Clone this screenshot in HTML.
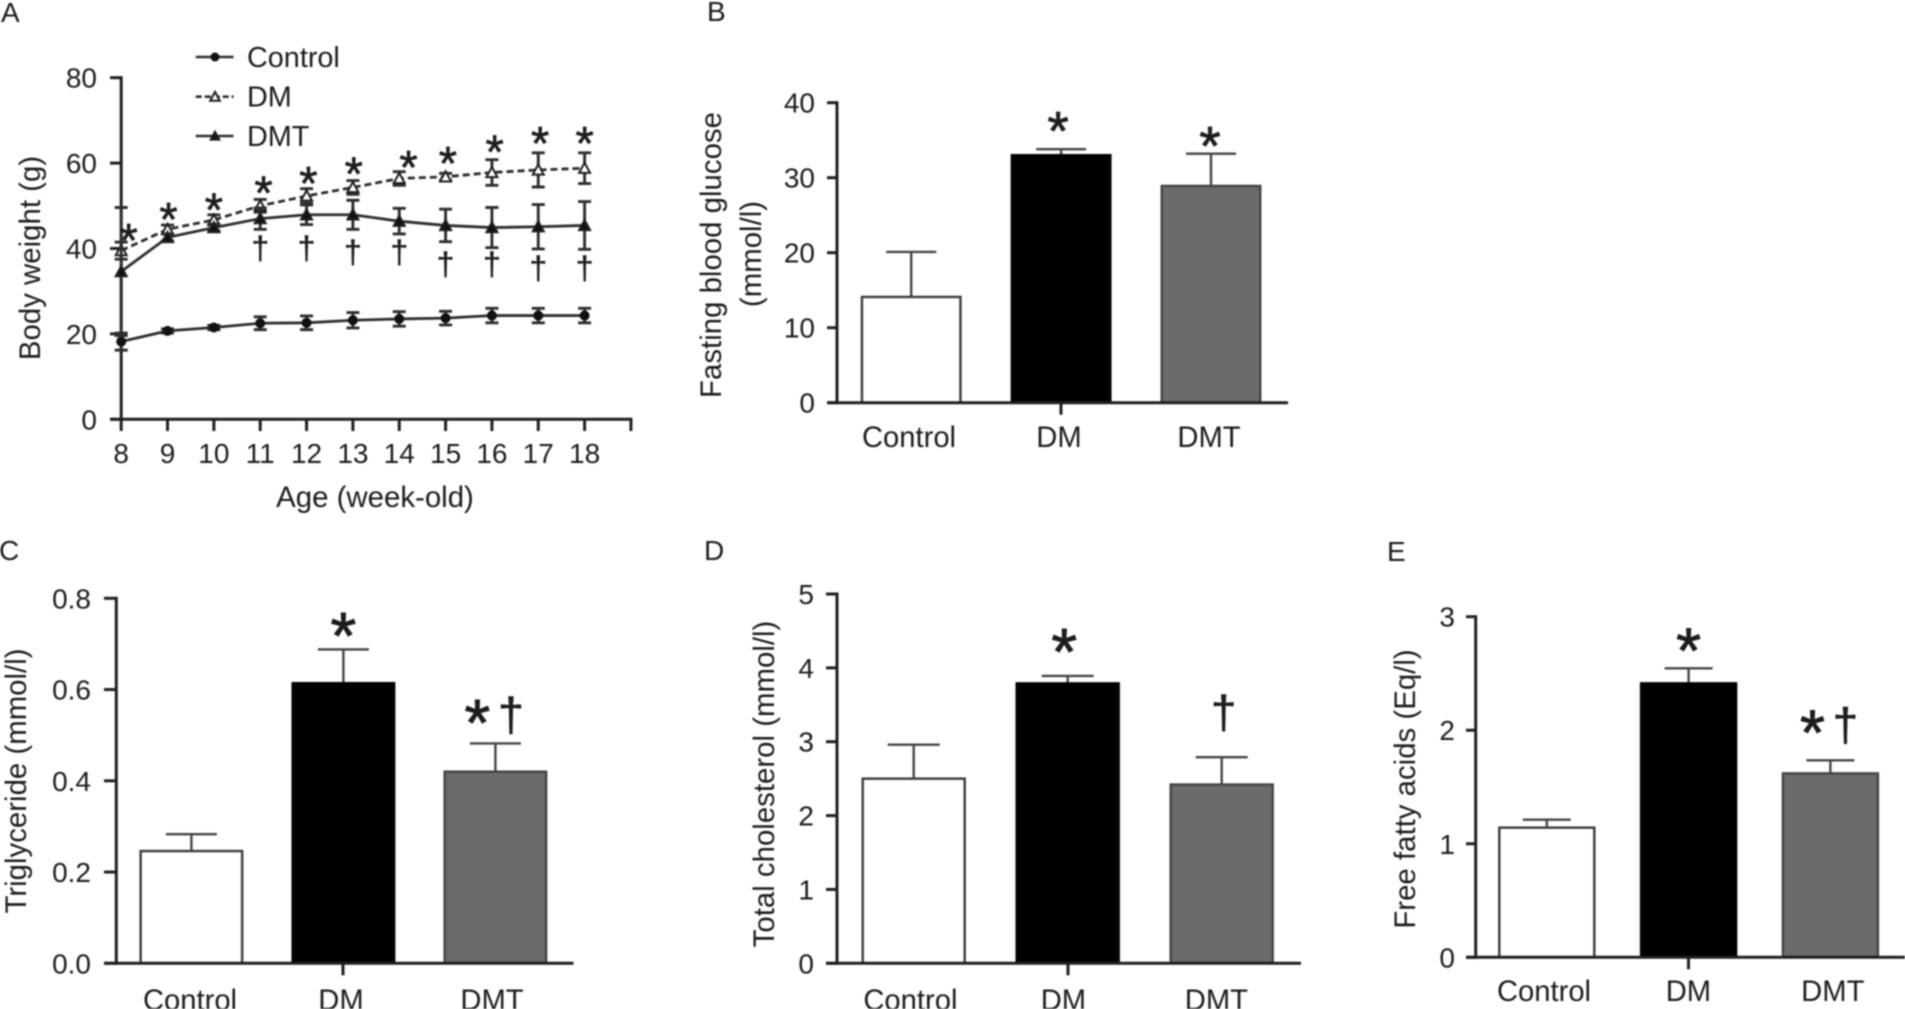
<!DOCTYPE html>
<html lang="en">
<head>
<meta charset="utf-8">
<title>Body weight and serum metabolic parameters</title>
<style>
html,body{margin:0;padding:0;background:#fff;}
body{width:1905px;height:1009px;overflow:hidden;}
svg{display:block;filter:blur(0.7px);}
text{font-family:"Liberation Sans",Arial,sans-serif;fill:#1c1c1c;}
</style>
</head>
<body>
<svg id="fig" xmlns="http://www.w3.org/2000/svg" width="1905" height="1009" viewBox="0 0 1905 1009"></svg>
<script>
// ---------- Panel A data ----------
const weeks = [8, 9, 10, 11, 12, 13, 14, 15, 16, 17, 18];
const weightTicks = [0, 20, 40, 60, 80];
const controlMeans = [18.2, 20.7, 21.5, 22.5, 22.6, 23.2, 23.5, 23.7, 24.3, 24.3, 24.3];
const controlErrors = [2.0, 0.5, 0.5, 1.5, 1.6, 1.8, 1.7, 1.6, 1.7, 1.7, 1.7];
const dmMeans = [39.5, 44.5, 46.7, 50.0, 52.3, 54.3, 56.4, 56.8, 57.8, 58.4, 58.8];
const dmErrors = [2.0, 1.0, 1.2, 1.5, 1.7, 1.6, 1.6, 0.8, 3.0, 4.0, 3.6];
const dmtMeans = [34.6, 42.6, 44.9, 47.0, 47.9, 47.9, 46.4, 45.4, 44.9, 45.1, 45.4];
const dmtErrors = [15.0, 0.8, 0.8, 2.5, 2.3, 3.4, 3.0, 3.8, 4.7, 5.2, 5.6];
const starLevels = [43.6, 48.5, 50.8, 54.7, 57.0, 59.2, 60.7, 61.7, 64.3, 66.4, 66.4];
const starWeekOffsets = [0.16, 0.02, 0, 0.07, 0.04, 0.02, 0.2, 0.05, 0.06, 0.04, 0];
const daggerWeeks = [11, 12, 13, 14, 15, 16, 17, 18];
const daggerLevels = [39.8, 39.8, 38.9, 38.9, 36.0, 36.0, 35.1, 35.1];

// ---------- Bar panel data ----------
const categories = ['Control', 'DM', 'DMT'];
const glucoseMeans = [14.1, 33.0, 28.9];
const glucoseErrors = [6.0, 0.8, 4.3];
const glucoseTicks = [0, 10, 20, 30, 40];
const triglycerideMeans = [0.246, 0.614, 0.42];
const triglycerideErrors = [0.037, 0.074, 0.062];
const triglycerideTicks = [0.0, 0.2, 0.4, 0.6, 0.8];
const cholesterolMeans = [2.50, 3.79, 2.42];
const cholesterolErrors = [0.46, 0.10, 0.37];
const cholesterolTicks = [0, 1, 2, 3, 4, 5];
const fattyAcidMeans = [1.142, 2.413, 1.62];
const fattyAcidErrors = [0.07, 0.132, 0.115];
const fattyAcidTicks = [0, 1, 2, 3];

const svg = document.getElementById('fig');
const NS = 'http://www.w3.org/2000/svg';
const INK = '#1f1f1f';
const LINE = '#2e2e2e';
const TITLE_SIZE = 29.4;
const CAT_SIZE = 29.2;

function shape(tag, attrs, parent) {
  const el = document.createElementNS(NS, tag);
  for (const k in attrs) el.setAttribute(k, attrs[k]);
  parent.appendChild(el);
  return el;
}
function line(x1, y1, x2, y2, stroke, width, parent) {
  return shape('line', {x1, y1, x2, y2, stroke, 'stroke-width': width}, parent);
}
function label(str, x, y, size, anchor, parent, rot) {
  const t = shape('text', {x, y, 'font-size': size, 'text-anchor': anchor}, parent);
  if (rot) t.setAttribute('transform', 'rotate(-90 ' + x + ' ' + y + ')');
  t.textContent = str;
  return t;
}
function star(x, cy, size, parent) {
  const t = label('*', x, cy + 0.5 * size, size, 'middle', parent);
  t.setAttribute('stroke', '#1c1c1c');
  t.setAttribute('stroke-width', size * 0.014);
  
  
  return t;
}
function dagger(x, cy, size, parent) {
  const t = label('†', x, cy + 0.3 * size, size, 'middle', parent);
  t.setAttribute('stroke', '#1c1c1c');
  t.setAttribute('stroke-width', size * 0.012);
  
  
  return t;
}
function panelLetter(str, x, y) {
  const t = label(str, x, y, 28, 'start', svg);
  
  
}
function yAxis(g, xAxis, tickLeft, yScale, ticks, labelRight, decimals) {
  const tops = Math.min.apply(null, ticks.map(yScale));
  const bots = Math.max.apply(null, ticks.map(yScale));
  const ax = line(xAxis, tops - 1.5, xAxis, bots + 1.5, INK, 3, g);
  
  
  ticks.forEach(function (v) {
    const y = yScale(v);
    const tk = line(tickLeft, y, xAxis, y, INK, 3, g);
    
    
    const t = label(v.toFixed(decimals), labelRight, y + 10, 28, 'end', g);
    
    
  });
}
function errorBar(x, yTop, yBot, capHalf, stroke, width, parent) {
  const s = line(x, yTop, x, yBot, stroke, width, parent);
  
  
  const c = line(x - capHalf, yTop, x + capHalf, yTop, stroke, width, parent);
  
  
}

// ---------- Panel A: line chart ----------
(function () {
  panelLetter('A', 1, 22);
  const g = shape('g', {}, svg);
  
  
  const xs = function (w) { return 121.2 + (w - 8) * 46.34; };
  const ys = function (v) { return 419.3 - v * 4.27; };

  yAxis(g, 121.2, 110, ys, weightTicks, 97, 0);
  const xa = line(110, ys(0), xs(19) + 1.5, ys(0), INK, 3, g);
  
  
  weeks.concat([19]).forEach(function (w) {
    const tk = line(xs(w), ys(0), xs(w), 431, INK, 3, g);
    
    
  });
  weeks.forEach(function (w) {
    const t = label(String(w), xs(w), 463, 28, 'middle', g);
    
    
  });
  const xt = label('Age (week-old)', 375, 507, TITLE_SIZE, 'middle', g);
  
  
  const yt = label('Body weight (g)', 40, 258, TITLE_SIZE, 'middle', g, true);
  
  

  function triangle(x, y, r, fill, parent) {
    const p = shape('polygon', {
      points: (x - r) + ',' + (y + r * 0.85) + ' ' + (x + r) + ',' + (y + r * 0.85) + ' ' + x + ',' + (y - r),
      fill: fill, stroke: INK, 'stroke-width': 2
    }, parent);
    return p;
  }
  function series(name, means, errs, dash, marker) {
    const sg = shape('g', {}, g);
    
    
    const pts = weeks.map(function (w, i) { return xs(w) + ',' + ys(means[i]); }).join(' ');
    const pl = shape('polyline', {points: pts, fill: 'none', stroke: LINE, 'stroke-width': 2.8}, sg);
    if (dash) pl.setAttribute('stroke-dasharray', dash);
    
    
    weeks.forEach(function (w, i) {
      const x = xs(w), top = ys(means[i] + errs[i]), bot = ys(means[i] - errs[i]);
      const eb = shape('path', {
        d: 'M' + (x - 6.5) + ' ' + top + 'H' + (x + 6.5) + 'M' + x + ' ' + top + 'V' + bot + 'M' + (x - 6.5) + ' ' + bot + 'H' + (x + 6.5),
        stroke: LINE, 'stroke-width': 2.9, fill: 'none'
      }, sg);
      
      
      let m;
      if (marker === 'circle') m = shape('circle', {cx: x, cy: ys(means[i]), r: 5, fill: '#111'}, sg);
      else if (marker === 'open') m = triangle(x, ys(means[i]), 5.5, '#fff', sg);
      else m = triangle(x, ys(means[i]), 5.5, '#111', sg);
      
      
    });
  }
  series('control', controlMeans, controlErrors, null, 'circle');
  series('dm', dmMeans, dmErrors, '7 4', 'open');
  series('dmt', dmtMeans, dmtErrors, null, 'filled');

  weeks.forEach(function (w, i) {
    star(xs(w + starWeekOffsets[i]), ys(starLevels[i]), 47, g);
  });
  daggerWeeks.forEach(function (w, i) {
    dagger(xs(w), ys(daggerLevels[i]), 32, g);
  });

  // legend
  const lg = shape('g', {}, g);
  
  
  function legendEntry(name, y, dash, marker) {
    const en = shape('g', {}, lg);
    
    
    const l = line(195.7, y, 233.6, y, LINE, 2.6, en);
    if (dash) l.setAttribute('stroke-dasharray', dash);
    
    
    let m;
    if (marker === 'circle') m = shape('circle', {cx: 215, cy: y, r: 4.5, fill: '#111'}, en);
    else if (marker === 'open') m = triangle(215, y, 4.8, '#fff', en);
    else m = triangle(215, y, 4.3, '#111', en);
    
    
    const t = label(name, 247, y + 10, 28.8, 'start', en);
    
    
  }
  legendEntry('Control', 57, null, 'circle');
  legendEntry('DM', 96.7, '6 3', 'open');
  legendEntry('DMT', 136, null, 'filled');
})();

// ---------- Bar panels ----------
function barPanel(cfg, means, errors, ticks) {
  panelLetter(cfg.letter, cfg.letterX, cfg.letterY);
  const g = shape('g', {}, svg);
  
  
  const maxV = ticks[ticks.length - 1];
  const ys = function (v) { return cfg.y0 + (cfg.yMax - cfg.y0) * v / maxV; };
  const bx = function (i) { return cfg.first + i * cfg.step; };
  const fills = ['#fff', '#000', '#6b6b6b'];
  const strokes = ['#3a3a3a', '#000', '#444'];

  categories.forEach(function (c, i) {
    const cx = bx(i);
    errorBar(cx, ys(means[i] + errors[i]), ys(means[i]), cfg.cap, '#444', 2.4, g);
    const r = shape('rect', {
      x: cx - cfg.width / 2, y: ys(means[i]), width: cfg.width, height: ys(0) - ys(means[i]),
      fill: fills[i], stroke: strokes[i], 'stroke-width': 2.4
    }, g);
    
    
    const t = label(c, cfg.labelFirst + i * cfg.labelStep, cfg.labelY, CAT_SIZE, 'middle', g);
    
    
  });

  yAxis(g, cfg.xAxis, cfg.tickLeft, ys, ticks, cfg.labelRight, cfg.decimals);
  const xa = line(cfg.tickLeft, ys(0), cfg.xEnd, ys(0), INK, 3, g);
  
  
  const mid = line(cfg.midTick, ys(0), cfg.midTick, ys(0) + 12, INK, 3, g);
  
  

  cfg.titles.forEach(function (tt) {
    const t = label(tt.text, tt.x, tt.y, TITLE_SIZE, 'middle', g, true);
    
    
  });
  cfg.stars.forEach(function (s) { star(bx(s.bar) + s.dx, ys(s.level), cfg.starSize, g); });
  cfg.daggers.forEach(function (s) { dagger(bx(s.bar) + s.dx, ys(s.level), cfg.daggerSize, g); });
}

barPanel({
  name: 'panel-b-fasting-glucose-chart', letter: 'B', letterX: 707, letterY: 21,
  y0: 402.7, yMax: 102.7, xAxis: 837, tickLeft: 827, xEnd: 1288, labelRight: 815, decimals: 0,
  first: 911.2, step: 149.9, width: 98.5, cap: 25, midTick: 1061,
  labelFirst: 909, labelStep: 150, labelY: 447,
  titles: [{text: 'Fasting blood glucose', x: 721, y: 255}, {text: '(mmol/l)', x: 761, y: 254}],
  stars: [{bar: 1, dx: -3, level: 37.4}, {bar: 2, dx: -1, level: 35.4}], daggers: [],
  starSize: 55, daggerSize: 44
}, glucoseMeans, glucoseErrors, glucoseTicks);

barPanel({
  name: 'panel-c-triglyceride-chart', letter: 'C', letterX: -1, letterY: 560,
  y0: 963.3, yMax: 598.3, xAxis: 116.3, tickLeft: 104, xEnd: 573.5, labelRight: 91, decimals: 1,
  first: 191.4, step: 152, width: 101.5, cap: 25.5, midTick: 343,
  labelFirst: 190, labelStep: 151, labelY: 1010,
  titles: [{text: 'Triglyceride (mmol/l)', x: 26, y: 781}],
  stars: [{bar: 1, dx: 0, level: 0.74}, {bar: 2, dx: -18, level: 0.55}],
  daggers: [{bar: 2, dx: 15.5, level: 0.54}],
  starSize: 66, daggerSize: 47
}, triglycerideMeans, triglycerideErrors, triglycerideTicks);

barPanel({
  name: 'panel-d-total-cholesterol-chart', letter: 'D', letterX: 704, letterY: 560,
  y0: 963.3, yMax: 594, xAxis: 837, tickLeft: 826, xEnd: 1301, labelRight: 814, decimals: 0,
  first: 913.7, step: 154, width: 102, cap: 26, midTick: 1068,
  labelFirst: 910.4, labelStep: 153, labelY: 1010,
  titles: [{text: 'Total cholesterol (mmol/l)', x: 774, y: 784}],
  stars: [{bar: 1, dx: -3.5, level: 4.36}],
  daggers: [{bar: 2, dx: 2, level: 3.37}],
  starSize: 66, daggerSize: 46
}, cholesterolMeans, cholesterolErrors, cholesterolTicks);

barPanel({
  name: 'panel-e-free-fatty-acids-chart', letter: 'E', letterX: 1387, letterY: 561,
  y0: 957.3, yMax: 616.7, xAxis: 1475.7, tickLeft: 1466, xEnd: 1905, labelRight: 1455, decimals: 0,
  first: 1546.8, step: 141.8, width: 95, cap: 24, midTick: 1688.5,
  labelFirst: 1544, labelStep: 144.4, labelY: 1001,
  titles: [{text: 'Free fatty acids (Eq/l)', x: 1415, y: 789}],
  stars: [{bar: 1, dx: 0, level: 2.79}, {bar: 2, dx: -18, level: 2.07}],
  daggers: [{bar: 2, dx: 15, level: 2.03}],
  starSize: 64, daggerSize: 46
}, fattyAcidMeans, fattyAcidErrors, fattyAcidTicks);
</script>
</body>
</html>
